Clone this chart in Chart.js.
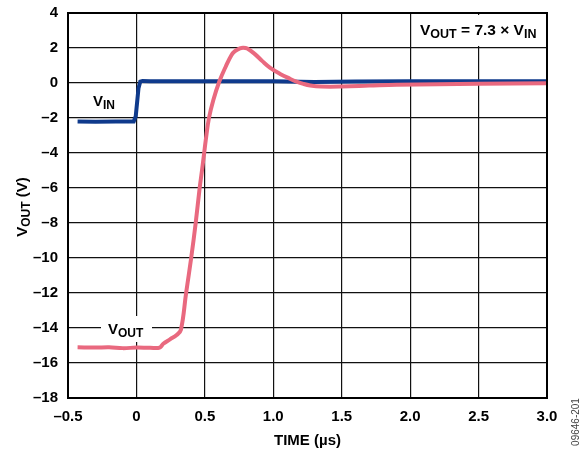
<!DOCTYPE html>
<html>
<head>
<meta charset="utf-8">
<script src="https://cdn.jsdelivr.net/npm/chart.js@4.4.1/dist/chart.umd.min.js"></script>
<style>
  html, body { margin: 0; padding: 0; background: #fff; }
  #wrap { width: 585px; height: 450px; position: relative; }
</style>
</head>
<body>
<div id="wrap"><canvas id="c" width="585" height="450"></canvas></div>
<script>
// ---- data ----
const xTickValues = [-0.5, 0, 0.5, 1.0, 1.5, 2.0, 2.5, 3.0];
const xTickLabels = ['\u20130.5', '0', '0.5', '1.0', '1.5', '2.0', '2.5', '3.0'];
const yTickValues = [4, 2, 0, -2, -4, -6, -8, -10, -12, -14, -16, -18];
const yTickLabels = ['4', '2', '0', '\u20132', '\u20134', '\u20136', '\u20138', '\u201310', '\u201312', '\u201314', '\u201316', '\u201318'];

const vinTime  = [-0.43, -0.3, -0.15, -0.02, -0.005, 0.015, 0.028, 0.045, 0.1, 0.5, 1.0, 1.3, 1.6, 2.0, 2.5, 3.0];
const vinVolts = [-2.2, -2.22, -2.2, -2.2, -1.9, -0.3, 0.08, 0.12, 0.1, 0.1, 0.1, 0.06, 0.08, 0.1, 0.1, 0.1];

const voutTime  = [-0.43, -0.3, -0.2, -0.1, 0, 0.1, 0.17, 0.196, 0.245, 0.294, 0.325, 0.363, 0.40, 0.433, 0.462, 0.479, 0.495, 0.506, 0.53, 0.562, 0.605, 0.652, 0.695, 0.72, 0.756, 0.78, 0.81, 0.866, 0.92, 0.975, 1.05, 1.12, 1.17, 1.22, 1.27, 1.35, 1.5, 1.7, 1.9, 2.2, 2.5, 3.0];
const voutVolts = [-15.1, -15.12, -15.1, -15.15, -15.12, -15.13, -15.12, -14.9, -14.65, -14.4, -14.1, -12.0, -10, -8, -6, -5, -4, -3.3, -2.0, -0.97, 0.07, 0.93, 1.6, 1.82, 1.98, 2.02, 1.97, 1.65, 1.25, 0.88, 0.52, 0.25, 0.08, -0.05, -0.14, -0.2, -0.2, -0.15, -0.1, -0.07, -0.04, -0.02];

const FONT = '"Liberation Sans", Arial, Helvetica, sans-serif';
const BLUE = '#0f3a8c';
const PINK = '#e9697f';

function toPts(xs, ys) { return xs.map((x, i) => ({ x: x, y: ys[i] })); }

function drawSegs(ctx, x, y, segs) {
  let cx = x;
  segs.forEach(s => {
    ctx.font = 'bold ' + s[1] + 'px ' + FONT;
    ctx.fillText(s[0], cx, y + (s[2] || 0));
    cx += ctx.measureText(s[0]).width;
  });
  return cx - x;
}
function segsWidth(ctx, segs) {
  let w = 0;
  segs.forEach(s => { ctx.font = 'bold ' + s[1] + 'px ' + FONT; w += ctx.measureText(s[0]).width; });
  return w;
}

const decorPlugin = {
  id: 'decor',
  beforeDatasetsDraw(chart) {
    const ctx = chart.ctx;
    const a = chart.chartArea;
    ctx.save();
    ctx.fillStyle = '#fff';
    ctx.fillRect(415, a.top + 2, a.right - 415 - 1.5, 31);
    ctx.fillRect(101, 316, 51, 26);
    ctx.restore();
  },
  afterDraw(chart) {
    const ctx = chart.ctx;
    const a = chart.chartArea;
    ctx.save();
    ctx.strokeStyle = '#000';
    ctx.lineWidth = 2;
    ctx.strokeRect(a.left, a.top, a.right - a.left, a.bottom - a.top);

    ctx.fillStyle = '#000';
    ctx.textBaseline = 'alphabetic';
    ctx.textAlign = 'left';
    drawSegs(ctx, 420, 35, [['V', 15.5, 0], ['OUT', 12.5, 3], [' = 7.3 \u00d7 ', 15.5, 0], ['V', 15.5, 0], ['IN', 12.5, 3]]);
    drawSegs(ctx, 93, 106, [['V', 15, 0], ['IN', 12, 3]]);
    drawSegs(ctx, 108, 334, [['V', 15, 0], ['OUT', 12, 3]]);

    ctx.font = 'bold 15px ' + FONT;
    ctx.textAlign = 'center';
    ctx.fillText('TIME (\u00b5s)', (a.left + a.right) / 2, 445);

    ctx.save();
    ctx.translate(27, 207);
    ctx.rotate(-Math.PI / 2);
    ctx.textAlign = 'left';
    const ySegs = [['V', 15, 0], ['OUT', 12, 3], [' (V)', 15, 0]];
    const w = segsWidth(ctx, ySegs);
    drawSegs(ctx, -w / 2, 0, ySegs);
    ctx.restore();

    ctx.save();
    ctx.translate(579, 422);
    ctx.rotate(-Math.PI / 2);
    ctx.font = '10px ' + FONT;
    ctx.fillStyle = '#444';
    ctx.textAlign = 'center';
    ctx.fillText('09646-201', 0, 0);
    ctx.restore();

    ctx.restore();
  }
};

new Chart(document.getElementById('c'), {
  type: 'line',
  data: {
    datasets: [
      {
        label: 'VOUT',
        data: toPts(voutTime, voutVolts),
        borderColor: PINK,
        borderWidth: 4,
        pointRadius: 0,
        tension: 0.4,
        fill: false,
        order: 0
      },
      {
        label: 'VIN',
        data: toPts(vinTime, vinVolts),
        borderColor: BLUE,
        borderWidth: 4,
        pointRadius: 0,
        tension: 0,
        fill: false,
        order: 1
      }
    ]
  },
  options: {
    responsive: false,
    animation: false,
    devicePixelRatio: 1,
    layout: { padding: { left: 0, right: 38, top: 13, bottom: 0 } },
    plugins: { legend: { display: false }, tooltip: { enabled: false } },
    scales: {
      x: {
        type: 'linear',
        min: -0.5, max: 3.0,
        afterBuildTicks(s) { s.ticks = xTickValues.map(v => ({ value: v })); },
        afterFit(s) { s.height = 52; s.paddingLeft = 0; s.paddingRight = 0; },
        grid: { color: '#111', lineWidth: 1.2, drawTicks: false },
        border: { display: false },
        ticks: {
          padding: 10,
          maxRotation: 0,
          autoSkip: false,
          color: '#000',
          font: { family: FONT, size: 15, weight: 'bold' },
          callback(v) { const i = xTickValues.findIndex(t => Math.abs(t - v) < 1e-9); return i >= 0 ? xTickLabels[i] : ''; }
        }
      },
      y: {
        type: 'linear',
        min: -18, max: 4,
        afterBuildTicks(s) { s.ticks = yTickValues.slice().reverse().map(v => ({ value: v })); },
        afterFit(s) { s.width = 68; s.paddingTop = 0; s.paddingBottom = 0; },
        grid: { color: '#111', lineWidth: 1.2, drawTicks: false },
        border: { display: false },
        ticks: {
          padding: 10,
          autoSkip: false,
          color: '#000',
          font: { family: FONT, size: 15, weight: 'bold' },
          callback(v) { const i = yTickValues.findIndex(t => Math.abs(t - v) < 1e-9); return i >= 0 ? yTickLabels[i] : ''; }
        }
      }
    }
  },
  plugins: [decorPlugin]
});
</script>
</body>
</html>
